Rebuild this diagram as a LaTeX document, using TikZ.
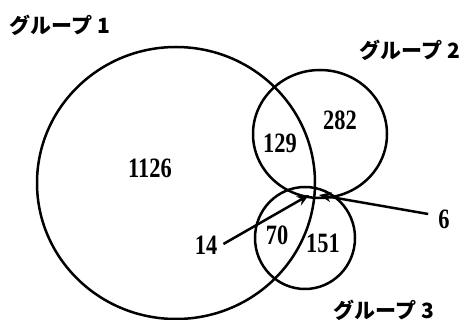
\documentclass[tikz,border=0pt]{standalone}
\usepackage{fontspec}
\usetikzlibrary{arrows.meta}
\newfontfamily\cjkfont{Noto Sans CJK JP}
\newfontfamily\numfont{Liberation Serif}[FakeStretch=0.8]
\begin{document}
\begin{tikzpicture}[x=1pt,y=-1pt,
  set/.style={draw,line width=2.5pt},
  num/.style={inner sep=0pt,font=\numfont\bfseries\fontsize{28}{28}\selectfont},
  grp/.style={inner sep=0pt,font=\cjkfont\bfseries\fontsize{21}{21}\selectfont},
  ptr/.style={line width=2.5pt,-{Stealth[length=12pt,width=10pt]}}]
\useasboundingbox (0,0) rectangle (464,320);
\draw[set] (176,183) ellipse [x radius=139,y radius=136];
\draw[set] (320,134) ellipse [x radius=67,y radius=64];
\draw[set] (305,238) ellipse [x radius=50,y radius=51];
\node[grp] (g1) at (60,25) {グループ 1};
\node[grp] (g2) at (410,50) {グループ 2};
\node[grp] (g3) at (384,310) {グループ 3};
\node[num] (n1126) at (150,168) {1126};
\node[num] (n129) at (280,143) {129};
\node[num] (n282) at (340,120) {282};
\node[num] (n70) at (277,235) {70};
\node[num] (n151) at (323,243) {151};
\node[num] (n14) at (206,245) {14};
\node[num] (n6) at (444,219) {6};
\coordinate (t14) at (309,195);
\coordinate (t6) at (319,195);
\draw[ptr] (n14.east) ++(6,-1) -- (t14);
\draw[ptr] (n6.west) ++(-10,-5) -- (t6);
\end{tikzpicture}
\end{document}
